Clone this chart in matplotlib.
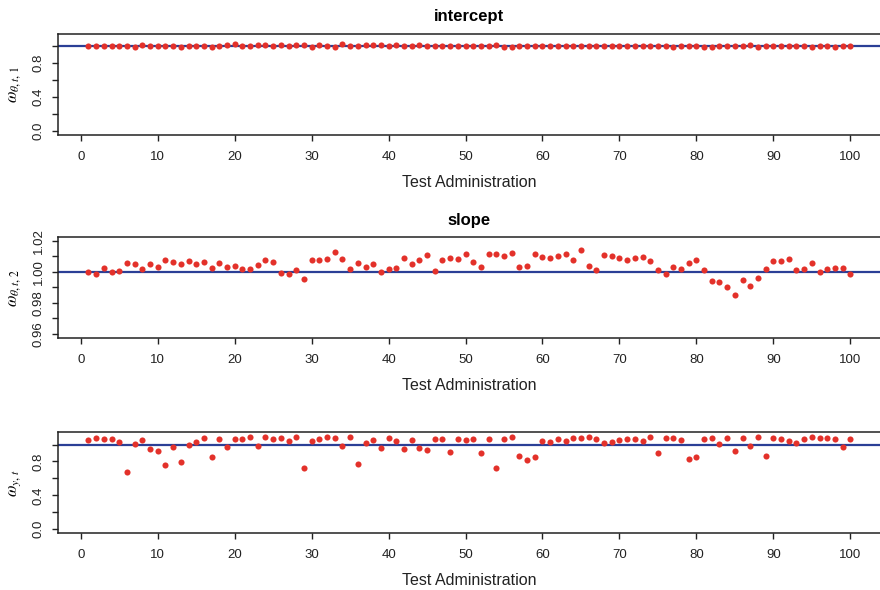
import numpy as np
import matplotlib
matplotlib.use("Agg")
import matplotlib.pyplot as plt

plt.rcParams["font.family"] = ["Liberation Sans", "DejaVu Sans"]
plt.rcParams["mathtext.fontset"] = "stix"

# ---- data ----
admin = np.arange(1, 101)

# intercept weights: offsets from 1.0
intercept_off = [
    0.000, 0.008, 0.008, 0.004, 0.004, 0.004, -0.004, 0.012, 0.004, 0.000,
    0.008, 0.008, -0.004, 0.000, 0.008, 0.000, -0.008, 0.008, 0.012, 0.020,
    0.008, 0.008, 0.012, 0.016, 0.008, 0.016, 0.000, 0.016, 0.016, -0.004,
    0.016, 0.008, -0.008, 0.024, 0.000, 0.004, 0.012, 0.012, 0.012, 0.004,
    0.016, 0.008, 0.008, 0.012, 0.008, 0.004, 0.004, 0.000, 0.004, 0.004,
    0.008, 0.000, 0.000, 0.012, -0.012, -0.008, 0.000, 0.004, 0.000, 0.004,
    0.004, 0.008, 0.004, 0.008, 0.004, 0.004, 0.004, 0.004, 0.004, 0.004,
    0.008, 0.000, 0.000, 0.004, 0.000, 0.004, -0.004, 0.000, 0.008, 0.008,
    -0.004, -0.008, 0.004, 0.004, 0.008, 0.008, 0.012, -0.012, 0.000, 0.004,
    0.004, 0.004, 0.000, 0.000, -0.008, 0.008, 0.004, -0.004, 0.000, 0.008,
]
intercept_w = [1.0 + v for v in intercept_off]

slope_w = [
    1.0000, 0.9985, 1.0026, 1.0002, 1.0004, 1.0054, 1.0048, 1.0017, 1.0052, 1.0028,
    1.0078, 1.0061, 1.0052, 1.0069, 1.0050, 1.0063, 1.0024, 1.0054, 1.0030, 1.0035,
    1.0020, 1.0020, 1.0043, 1.0076, 1.0065, 0.9993, 0.9983, 1.0011, 0.9952, 1.0076,
    1.0076, 1.0080, 1.0130, 1.0085, 1.0020, 1.0054, 1.0030, 1.0052, 1.0002, 1.0020,
    1.0026, 1.0087, 1.0052, 1.0078, 1.0109, 1.0007, 1.0078, 1.0087, 1.0080, 1.0113,
    1.0065, 1.0033, 1.0117, 1.0117, 1.0102, 1.0124, 1.0028, 1.0035, 1.0113, 1.0098,
    1.0087, 1.0102, 1.0113, 1.0074, 1.0141, 1.0035, 1.0009, 1.0111, 1.0102, 1.0087,
    1.0076, 1.0091, 1.0098, 1.0067, 1.0009, 0.9985, 1.0033, 1.0015, 1.0059, 1.0076,
    1.0009, 0.9941, 0.9935, 0.9902, 0.9852, 0.9950, 0.9911, 0.9961, 1.0020, 1.0067,
    1.0067, 1.0080, 1.0009, 1.0020, 1.0056, 0.9996, 1.0015, 1.0026, 1.0026, 0.9985,
]

resid_w = [
    1.055, 1.071, 1.059, 1.063, 1.024, 0.676, 1.008, 1.055, 0.945, 0.921,
    0.763, 0.976, 0.794, 0.992, 1.028, 1.071, 0.854, 1.063, 0.968, 1.067,
    1.063, 1.083, 0.984, 1.087, 1.067, 1.071, 1.043, 1.083, 0.727, 1.036,
    1.063, 1.083, 1.071, 0.980, 1.083, 0.767, 1.012, 1.051, 0.960, 1.071,
    1.036, 0.945, 1.051, 0.964, 0.937, 1.067, 1.059, 0.913, 1.059, 1.055,
    1.059, 0.901, 1.067, 0.723, 1.067, 1.083, 0.866, 0.818, 0.854, 1.047,
    1.028, 1.059, 1.040, 1.079, 1.079, 1.083, 1.063, 1.012, 1.032, 1.051,
    1.063, 1.067, 1.047, 1.087, 0.905, 1.071, 1.071, 1.055, 0.834, 0.858,
    1.059, 1.075, 1.008, 1.071, 0.929, 1.071, 0.988, 1.083, 0.862, 1.071,
    1.063, 1.043, 1.020, 1.059, 1.083, 1.079, 1.071, 1.067, 0.976, 1.063,
]

titles = ["intercept", "slope", ""]
ylabels = [r"$\omega_{\theta,t,\,1}$", r"$\omega_{\theta,t,\,2}$", r"$\omega_{y,\,t}$"]
series = [intercept_w, slope_w, resid_w]
ylims = [(0.0, 1.1), (0.96, 1.02), (0.0, 1.1)]
yticks = [np.arange(0, 1.01, 0.2), np.arange(0.96, 1.0201, 0.01), np.arange(0, 1.01, 0.2)]
ylabs_shown = [["0.0", "", "0.4", "", "0.8", ""],
               ["0.96", "", "0.98", "", "1.00", "", "1.02"],
               ["0.0", "", "0.4", "", "0.8", ""]]

RED = "#e3312a"
BLUE = "#2b3f96"

fig = plt.figure(figsize=(8.8, 5.9), dpi=100)
bottoms = [0.7717, 0.4276, 0.0966]

for k in range(3):
    ax = fig.add_axes([0.0659, bottoms[k], 0.935, 0.1707])
    lo, hi = ylims[k]
    pad = 0.04 * (hi - lo)
    ax.set_ylim(lo - pad, hi + pad)
    ax.set_xlim(1 - 0.04 * 99, 100 + 0.04 * 99)

    ax.axhline(1.0, color=BLUE, lw=1.6, zorder=1)
    ax.plot(admin, series[k], "o", color=RED, ms=4.4, mec="none", zorder=2)

    ax.set_xticks(np.arange(0, 101, 10))
    ax.set_yticks(yticks[k])
    ax.set_yticklabels(ylabs_shown[k], rotation=90, va="center")
    ax.tick_params(axis="both", direction="out", length=4, width=1,
                   labelsize=9.5, color="#222222", labelcolor="#222222")
    ax.tick_params(axis="x", pad=7.5)
    ax.tick_params(axis="y", pad=5.5)
    for s in ax.spines.values():
        s.set_linewidth(1.1)
        s.set_color("#222222")

    if titles[k]:
        ax.set_title(titles[k], fontsize=12, fontweight="bold", pad=9)
    ax.set_xlabel("Test Administration", fontsize=11.5, color="#222222")
    ax.xaxis.set_label_coords(0.5, -0.40)
    ax.set_ylabel(ylabels[k], fontsize=12)
    ax.yaxis.set_label_coords(-0.043, 0.5)

fig.savefig("out.png", dpi=100)
